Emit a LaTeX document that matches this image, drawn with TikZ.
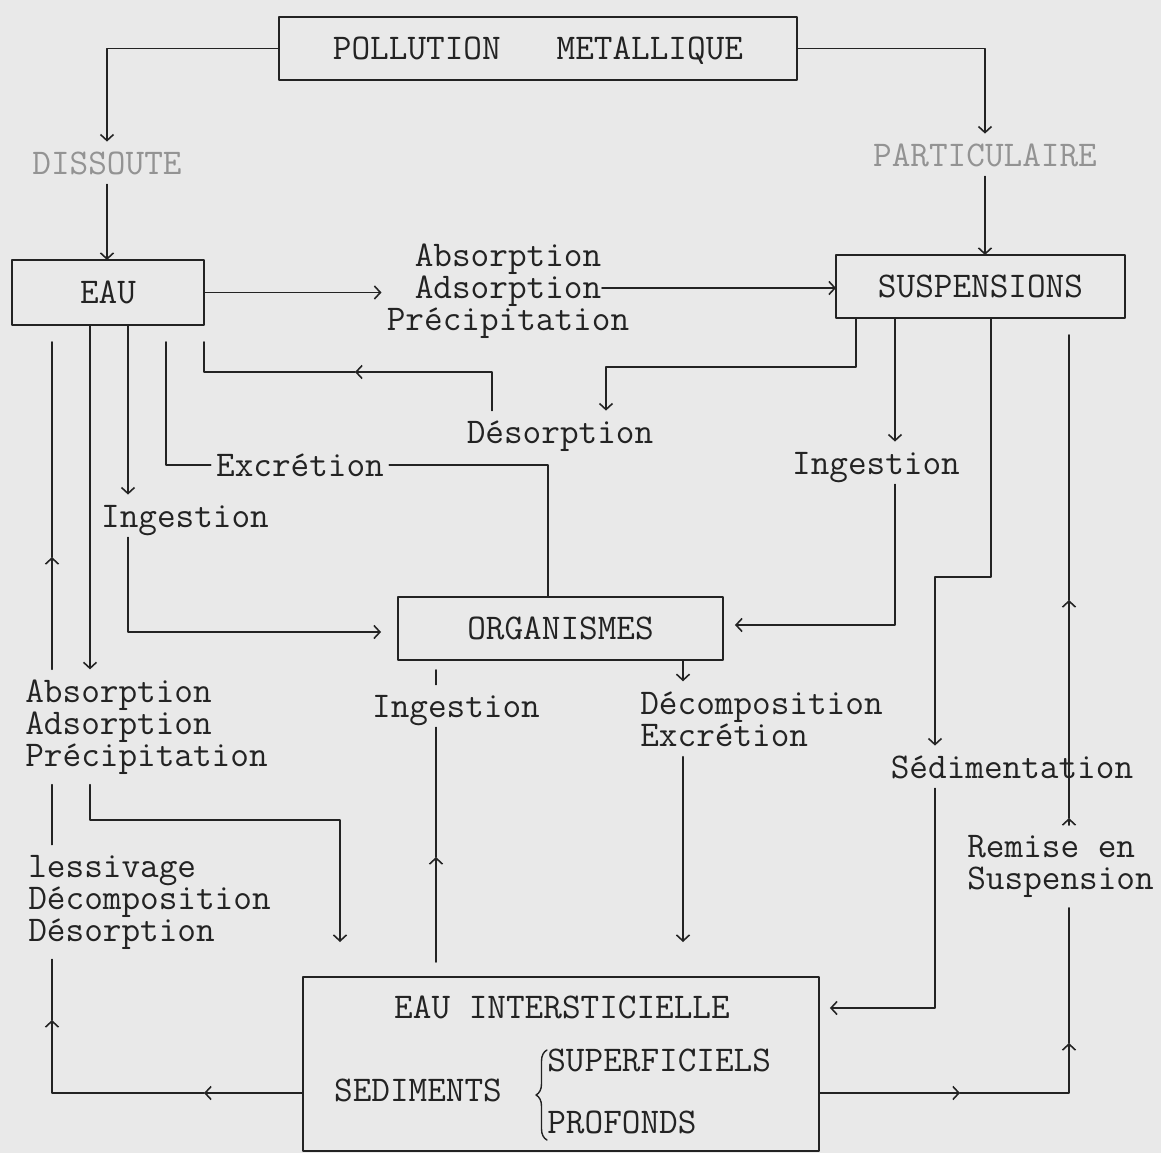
\documentclass[tikz,border=0pt]{standalone}
\usetikzlibrary{arrows.meta,decorations.pathreplacing}
\definecolor{paper}{RGB}{233,233,233}
\definecolor{ink}{RGB}{35,35,35}
\begin{document}
\begin{tikzpicture}[
    x=0.02cm, y=-0.02cm,
    line cap=round,
    line join=round,
    color=ink,
    font=\ttfamily\fontsize{20.6}{18.2}\selectfont,
    flow/.style={draw=ink, line width=0.9pt},
    arr/.style={flow, -{Straight Barb[length=1.2mm,width=2.6mm]}},
    box/.style={draw=ink, line width=1.1pt, inner sep=0pt, outer sep=0pt, text height=12.6pt, text depth=0pt},
    lbl/.style={inner xsep=0.1cm, inner ysep=0.2cm, text height=12.6pt, text depth=0pt},
    blk/.style={inner xsep=0.1cm, inner ysep=0.2cm, align=left},
    faint/.style={lbl, text=gray!85},
    brc/.style={draw=ink, line width=0.8pt, decorate, decoration={brace, amplitude=0.22cm}}
]
\useasboundingbox (0,0) rectangle (1161,1153);
\fill[paper] (0,0) rectangle (1161,1153);

% boxes and labels
\node[box, minimum width=10.36cm, minimum height=1.26cm] (pol) at (538,48.5) {POLLUTION~~~METALLIQUE};
\node[faint] (dis) at (107,163) {DISSOUTE};
\node[faint] (part) at (985,155) {PARTICULAIRE};
\node[box, minimum width=3.84cm, minimum height=1.30cm] (eau) at (108,292.5) {EAU};
\node[box, minimum width=5.78cm, minimum height=1.26cm] (susp) at (980.5,286.5) {SUSPENSIONS};
\node[blk, align=center] (absA) at (508,291) {Absorption\\Adsorption\\Précipitation};
\node[lbl] (des) at (560,432) {Désorption};
\node[lbl] (exc) at (300,465) {Excrétion};
\node[lbl] (ingL) at (185,516) {Ingestion};
\node[lbl] (ingR) at (876,463) {Ingestion};
\node[box, minimum width=6.5cm, minimum height=1.26cm] (org) at (560.5,628.5) {ORGANISMES};
\node[blk, anchor=west] (absB) at (20,727) {Absorption\\Adsorption\\Précipitation};
\node[lbl] (ingB) at (456,706) {Ingestion};
\node[blk, anchor=west] (decB) at (635,719) {Décomposition\\Excrétion};
\node[lbl] (sed) at (1012,767) {Sédimentation};
\node[blk, anchor=west] (lesB) at (23,902) {lessivage\\Décomposition\\Désorption};
\node[blk, anchor=west] (rem) at (962,866.5) {Remise en\\Suspension};
\node[box, minimum width=10.32cm, minimum height=3.48cm] (eauint) at (561,1064) {};
\node[lbl] (eiT) at (562,1007) {EAU INTERSTICIELLE};
\node[lbl] (sedT) at (418,1090) {SEDIMENTS};
\node[lbl, anchor=west] (supT) at (542,1060) {SUPERFICIELS};
\node[lbl, anchor=west] (proT) at (542,1122) {PROFONDS};
\draw[brc] (547,1140) -- (547,1050);

% pollution split
\draw[arr] (pol.west) -| (dis.north);
\draw[arr] (pol.east) -| (part.north);
\draw[arr] (dis.south) -- (dis.south |- eau.north);
\draw[arr] (part.south) -- (part.south |- susp.north);

% eau -> suspensions
\coordinate (adsR) at (602,288);
\draw[arr] (eau.east) -- (eau.east -| absA.west);
\draw[arr] (adsR) -- (adsR -| susp.west);

% suspensions -> desorption -> eau
\coordinate (dsA) at (856,367);
\coordinate (dsB) at (606,367);
\draw[arr] (dsA |- susp.south) -- (dsA) -- (dsB) -- (dsB |- des.north);
\coordinate (deA) at (492,372);
\coordinate (deM) at (355,372);
\coordinate (deB) at (204,372);
\draw[arr] (deA |- des.north) -- (deA) -- (deM);
\draw[flow, shorten >=0.34cm] (deM) -- (deB) -- (deB |- eau.south);

% eau -> ingestion -> organismes
\coordinate (igA) at (128,632);
\draw[arr] (igA |- eau.south) -- (igA |- ingL.north);
\draw[arr, shorten >=0.34cm] (igA |- ingL.south) -- (igA) -- (igA -| org.west);

% organismes -> excretion -> eau
\coordinate (exA) at (548,465);
\coordinate (exB) at (166,465);
\draw[flow] (exA |- org.north) -- (exA) -- (exc.east);
\draw[flow, shorten >=0.34cm] (exc.west) -- (exB) -- (exB |- eau.south);

% eau -> absorption -> eau interstitielle
\coordinate (abA) at (90,820);
\coordinate (abB) at (340,820);
\draw[arr] (abA |- eau.south) -- (abA |- absB.north);
\draw[arr, shorten >=0.7cm] (abA |- absB.south) -- (abA) -- (abB) -- (abB |- eauint.north);

% sediments -> lessivage -> eau
\coordinate (lfA) at (52,1093);
\coordinate (lfM) at (204,1093);
\coordinate (lfU) at (52,1020);
\coordinate (lfV) at (52,557);
\draw[arr] (eauint.west |- lfA) -- (lfM);
\draw[arr] (lfM) -- (lfA) -- (lfU);
\draw[flow] (lfU) -- (lfU |- lesB.south);
\draw[flow] (lfU |- lesB.north) -- (lfU |- absB.south);
\draw[arr] (lfU |- absB.north) -- (lfV);
\draw[flow, shorten >=0.34cm] (lfV) -- (lfV |- eau.south);

% sediments -> ingestion -> organismes
\coordinate (ibM) at (436,857);
\draw[arr, shorten <=0.3cm] (ibM |- eauint.north) -- (ibM);
\draw[flow] (ibM) -- (ibM |- ingB.south);
\draw[flow, shorten >=0.2cm] (ibM |- ingB.north) -- (ibM |- org.south);

% organismes -> decomposition -> eau interstitielle
\coordinate (dcA) at (683,673);
\draw[arr] (dcA |- org.south) -- (dcA |- decB.north);
\draw[arr, shorten >=0.7cm] (dcA |- decB.south) -- (dcA |- eauint.north);

% suspensions -> ingestion -> organismes
\coordinate (irA) at (895,625);
\draw[arr] (irA |- susp.south) -- (irA |- ingR.north);
\draw[arr, shorten >=0.24cm] (irA |- ingR.south) -- (irA) -- (irA -| org.east);

% sedimentation
\coordinate (sdA) at (991,577);
\coordinate (sdB) at (935,577);
\coordinate (sdC) at (935,1008);
\draw[arr] (sdA |- susp.south) -- (sdA) -- (sdB) -- (sdB |- sed.north);
\draw[arr, shorten >=0.22cm] (sdB |- sed.south) -- (sdC) -- (sdC -| eauint.east);

% remise en suspension
\coordinate (rmA) at (1069,1093);
\coordinate (rmM) at (960,1093);
\coordinate (rmU) at (1069,1043);
\coordinate (rmV) at (1069,818);
\coordinate (rmW) at (1069,600);
\draw[arr] (eauint.east |- rmA) -- (rmM);
\draw[arr] (rmM) -- (rmA) -- (rmU);
\draw[flow] (rmU) -- (rmU |- rem.south);
\draw[arr] (rmU |- rem.north) -- (rmV);
\draw[arr] (rmV) -- (rmW);
\draw[flow, shorten >=0.34cm] (rmW) -- (rmW |- susp.south);
\end{tikzpicture}
\end{document}
